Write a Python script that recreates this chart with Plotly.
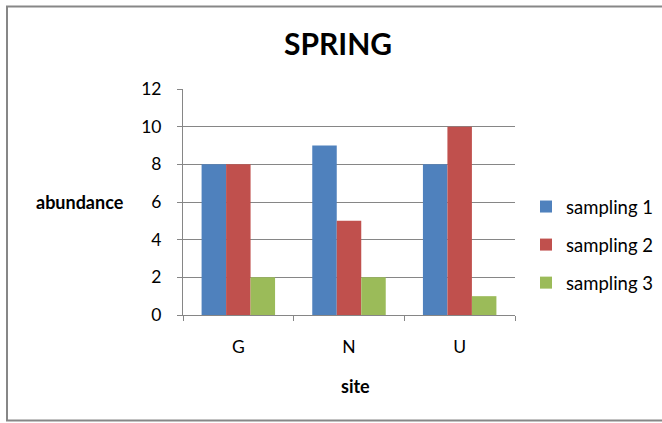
import plotly.graph_objects as go

# Abundance per site for three spring samplings
sites = ["G", "N", "U"]
sampling_1 = [8, 9, 8]
sampling_2 = [8, 5, 10]
sampling_3 = [2, 2, 1]

series_names = ["sampling 1", "sampling 2", "sampling 3"]
series_values = [sampling_1, sampling_2, sampling_3]
series_colors = ["#4F81BD", "#C0504D", "#9BBB59"]

y_ticks = [0, 2, 4, 6, 8, 10, 12]

FONT = "Lato"
GRID = "#868686"

fig = go.Figure()
for i, (name, vals, col) in enumerate(zip(series_names, series_values, series_colors)):
    fig.add_trace(go.Bar(
        x=sites, y=vals, name=name,
        marker=dict(color=col, line=dict(width=0)),
        legendgroup=f"g{i}",
    ))

W, H = 662, 423
L, R, T, B = 183, 147, 89, 108
pw, ph = W - L - R, H - T - B


def px_x(px):
    return (px - L) / pw


def px_y(py):
    return (H - B - py) / ph


fig.update_layout(
    width=W, height=H, autosize=False,
    margin=dict(l=L, r=R, t=T, b=B, pad=0, autoexpand=False),
    paper_bgcolor="white", plot_bgcolor="white",
    font=dict(family=FONT, size=17, color="#000000"),
    barmode="group", bargap=0.336, bargroupgap=0,
    title=dict(text="<b>SPRING</b>", font=dict(family=FONT, size=30, color="#000000"),
               xref="container", x=338 / W, xanchor="center",
               yref="container", y=1 - 44 / H, yanchor="middle"),
    xaxis=dict(
        type="category", showline=True, linecolor=GRID, linewidth=1,
        ticks="outside", tickson="boundaries", ticklen=5, tickcolor=GRID,
        showgrid=False, ticklabelstandoff=16,
        tickfont=dict(family=FONT, size=17.5, color="#000000"),
    ),
    yaxis=dict(
        range=[0, 12], tickvals=y_ticks, showline=True, linecolor=GRID, linewidth=1,
        ticks="outside", ticklen=5, tickcolor=GRID,
        showgrid=True, gridcolor=GRID, gridwidth=1, zeroline=False,
        ticklabelstandoff=12,
        tickfont=dict(family=FONT, size=17.5, color="#000000"),
    ),
    legend=dict(
        x=px_x(526), xanchor="left", y=px_y(245), yanchor="middle",
        tracegroupgap=11, font=dict(family=FONT, size=18.5, color="#000000"),
        bgcolor="rgba(0,0,0,0)",
    ),
    showlegend=True,
)

# Axis titles
fig.add_annotation(text="<b>abundance</b>", x=px_x(80), y=px_y(202),
                   xref="paper", yref="paper", showarrow=False,
                   xanchor="center", yanchor="middle",
                   font=dict(family=FONT, size=18, color="#000000"))
fig.add_annotation(text="<b>site</b>", x=px_x(355), y=px_y(386),
                   xref="paper", yref="paper", showarrow=False,
                   xanchor="center", yanchor="middle",
                   font=dict(family=FONT, size=18, color="#000000"))

# Chart-area border
fig.add_shape(type="rect", xref="paper", yref="paper",
              x0=px_x(7), x1=px_x(668), y0=px_y(420.5), y1=px_y(6.5),
              line=dict(color="#878787", width=2), fillcolor="rgba(0,0,0,0)",
              layer="below")

fig.write_html("out.html")
